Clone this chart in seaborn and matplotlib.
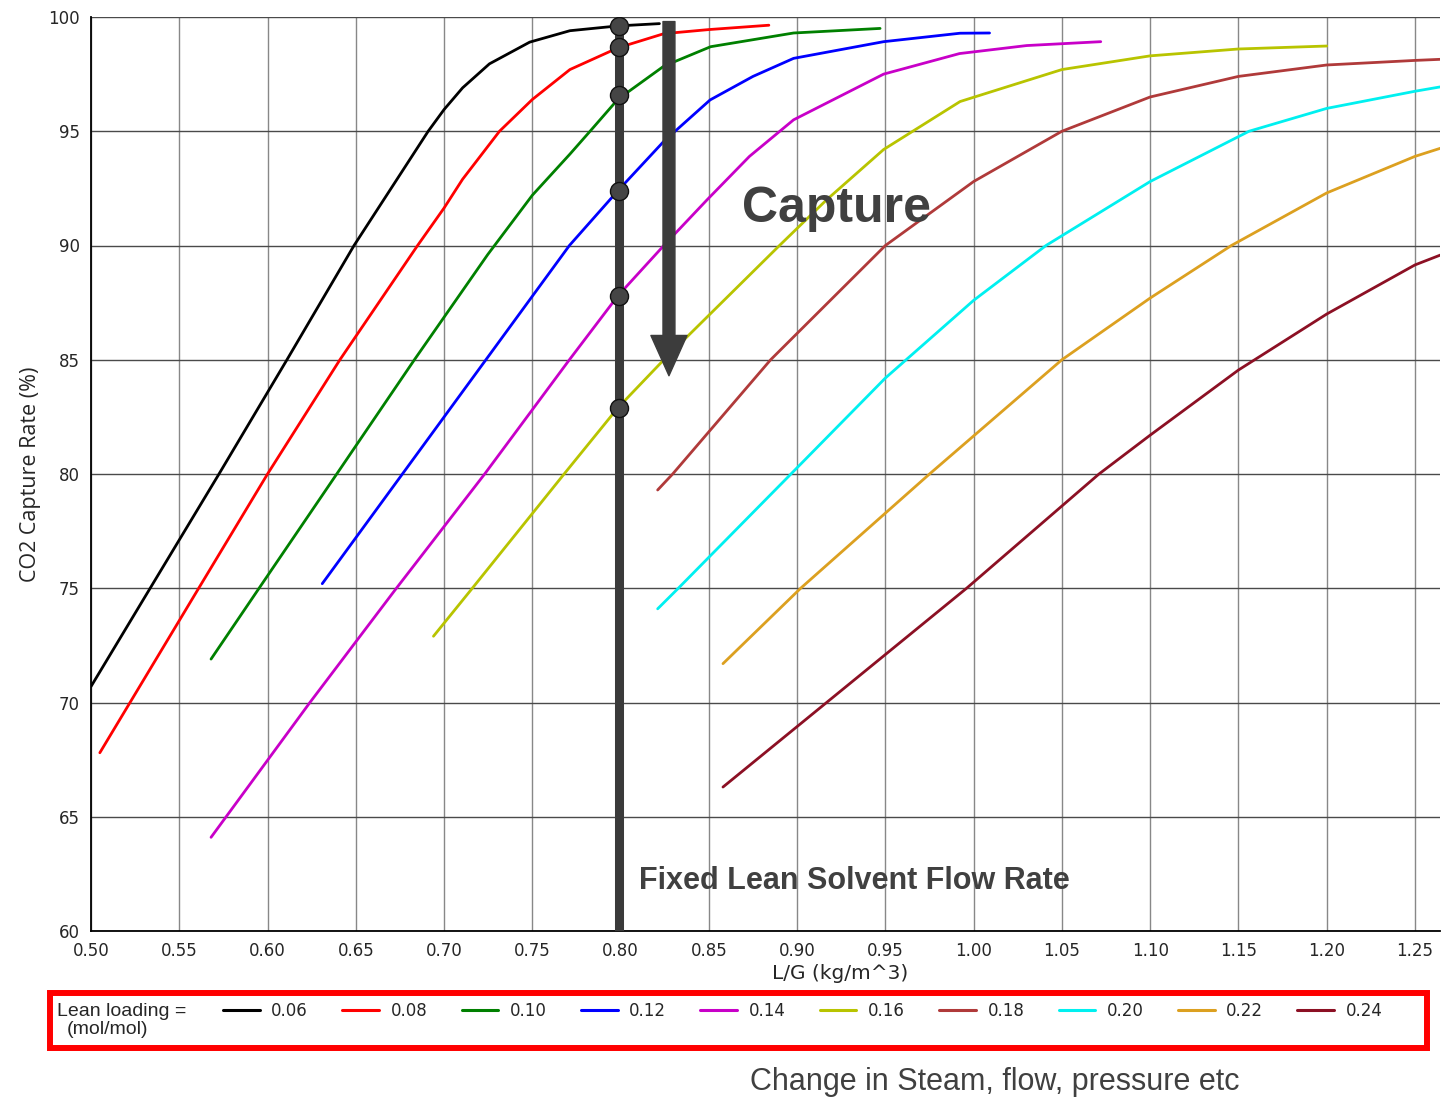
import matplotlib
matplotlib.use("Agg")
import matplotlib.pyplot as plt
import seaborn as sns
import pandas as pd
from matplotlib.patches import Rectangle, FancyArrowPatch, ArrowStyle

# ---------------- data ----------------
loadings = ["0.06", "0.08", "0.10", "0.12", "0.14", "0.16", "0.18", "0.20", "0.22", "0.24"]
colors = ["#000000", "#ff0000", "#008000", "#0000ff", "#c800c8",
          "#b8c400", "#b03a3a", "#00f0f0", "#dca020", "#8c1024"]

lg_006 = [0.500, 0.5335, 0.5725, 0.611, 0.649, 0.691, 0.700, 0.7105, 0.7257, 0.7485, 0.7713, 0.7985, 0.822]
cap_006 = [70.7, 75.0, 80.0, 85.0, 90.0, 95.0, 95.95, 96.9, 97.95, 98.9, 99.4, 99.61, 99.71]

lg_008 = [0.505, 0.561, 0.600, 0.641, 0.685, 0.700, 0.7105, 0.7314, 0.750, 0.7713, 0.7985, 0.8245, 0.850, 0.884]
cap_008 = [67.8, 75.0, 80.0, 85.0, 90.0, 91.64, 92.9, 95.0, 96.39, 97.70, 98.65, 99.27, 99.45, 99.64]

lg_010 = [0.568, 0.5952, 0.6392, 0.6832, 0.7247, 0.750, 0.7713, 0.7827, 0.7985, 0.8245, 0.851, 0.898, 0.947]
cap_010 = [71.9, 75.0, 80.0, 85.0, 89.6, 92.2, 94.0, 95.0, 96.4, 97.85, 98.70, 99.30, 99.50]

lg_012 = [0.631, 0.6764, 0.7237, 0.771, 0.7985, 0.8245, 0.8507, 0.875, 0.898, 0.949, 0.9923, 1.009]
cap_012 = [75.2, 80.0, 85.0, 90.0, 92.4, 94.56, 96.37, 97.4, 98.19, 98.92, 99.29, 99.30]

lg_014 = [0.568, 0.624, 0.672, 0.723, 0.771, 0.7985, 0.8245, 0.849, 0.873, 0.898, 0.949, 0.992, 1.030, 1.072]
cap_014 = [64.1, 70.0, 74.9, 80.0, 85.0, 87.8, 90.0, 92.0, 93.9, 95.5, 97.5, 98.4, 98.75, 98.92]

lg_016 = [0.694, 0.716, 0.768, 0.7985, 0.8245, 0.890, 0.9167, 0.949, 0.9923, 1.050, 1.100, 1.150, 1.200]
cap_016 = [72.9, 75.0, 80.0, 82.9, 85.0, 90.0, 92.0, 94.2, 96.3, 97.7, 98.3, 98.6, 98.73]

lg_018 = [0.821, 0.8295, 0.885, 0.950, 1.000, 1.050, 1.100, 1.150, 1.200, 1.250, 1.265]
cap_018 = [79.3, 80.0, 85.0, 90.0, 92.8, 95.0, 96.5, 97.4, 97.9, 98.1, 98.15]

lg_020 = [0.821, 0.8327, 0.8965, 0.950, 1.000, 1.041, 1.100, 1.156, 1.200, 1.250, 1.265]
cap_020 = [74.1, 75.0, 80.0, 84.2, 87.6, 90.0, 92.8, 95.0, 96.0, 96.75, 96.95]

lg_022 = [0.858, 0.902, 0.975, 1.050, 1.100, 1.146, 1.200, 1.250, 1.265]
cap_022 = [71.7, 75.0, 80.0, 85.0, 87.7, 90.0, 92.3, 93.9, 94.27]

lg_024 = [0.858, 0.9167, 0.996, 1.071, 1.100, 1.150, 1.200, 1.250, 1.265]
cap_024 = [66.3, 70.0, 75.0, 80.0, 81.7, 84.55, 87.0, 89.15, 89.6]

fixed_flow_lg = 0.799
fixed_flow_capture = [99.62, 98.68, 96.6, 92.4, 87.8, 82.9]

x_ticks = [0.50, 0.55, 0.60, 0.65, 0.70, 0.75, 0.80, 0.85, 0.90, 0.95, 1.00, 1.05, 1.10, 1.15, 1.20, 1.25]
y_ticks = [60, 65, 70, 75, 80, 85, 90, 95, 100]

series_x = [lg_006, lg_008, lg_010, lg_012, lg_014, lg_016, lg_018, lg_020, lg_022, lg_024]
series_y = [cap_006, cap_008, cap_010, cap_012, cap_014, cap_016, cap_018, cap_020, cap_022, cap_024]

rows = []
for lab, xs, ys in zip(loadings, series_x, series_y):
    for xv, yv in zip(xs, ys):
        rows.append({"L/G": xv, "capture": yv, "loading": lab})
df = pd.DataFrame(rows)

# ---------------- style ----------------
sns.set_style("white")
plt.rcParams["font.family"] = ["DejaVu Sans"]

fig = plt.figure(figsize=(14.42, 11), dpi=100)
ax = fig.add_axes([91 / 1442, 1 - 931 / 1100, (1440 - 91) / 1442, (931 - 17) / 1100])

sns.lineplot(data=df, x="L/G", y="capture", hue="loading", hue_order=loadings,
             palette=colors, estimator=None, sort=False, linewidth=2.0, ax=ax, legend="full")

handles, labels = ax.get_legend_handles_labels()
ax.get_legend().remove()

ax.set_xlim(0.50, 0.5 + (1440 - 91) / 1765.3)
ax.set_ylim(60, 100)
ax.set_xticks(x_ticks)
ax.set_xticklabels([f"{v:.2f}" for v in x_ticks])
ax.set_yticks(y_ticks)
ax.tick_params(axis="both", labelsize=12, length=5, width=1, direction="out", color="black", pad=3)

ax.xaxis.grid(True, color="#888888", linewidth=1.0)
ax.yaxis.grid(True, color="#4a4a4a", linewidth=1.0)
ax.set_axisbelow(True)
for s in ["top", "right"]:
    ax.spines[s].set_visible(False)
for s in ["left", "bottom"]:
    ax.spines[s].set_color("black")
    ax.spines[s].set_linewidth(1.3)

ax.set_xlabel("L/G (kg/m^3)", fontsize=14.5)
ax.xaxis.set_label_coords((840 - 91) / 1349, -0.036)
ax.set_ylabel("CO2 Capture Rate (%)", fontsize=15.5, family=["Open Sans", "DejaVu Sans"])
ax.yaxis.set_label_coords(-0.037, 0.5)

# fixed lean solvent flow rate bar + intersection dots
ax.vlines(fixed_flow_lg, 60, 99.85, color="#3a3a3a", linewidth=6.5, zorder=5)
ax.plot([fixed_flow_lg] * len(fixed_flow_capture), fixed_flow_capture, linestyle="none",
        marker="o", markersize=13, markerfacecolor="#454545", markeredgecolor="#111111",
        markeredgewidth=1.0, zorder=6)

# arrow
arrow = FancyArrowPatch((0.8274, 99.8), (0.8274, 84.3),
                        arrowstyle=ArrowStyle.Simple(head_length=2.9, head_width=2.6, tail_width=0.86),
                        mutation_scale=10, color="#3c3c3c", shrinkA=0, shrinkB=0, zorder=6)
ax.add_patch(arrow)

ax.text(0.869, 91.6, "Capture", fontsize=36, fontweight="bold", color="#404040",
        va="center", ha="left", family=["Liberation Sans", "DejaVu Sans"], zorder=7)
ax.text(0.8104, 62.2, "Fixed Lean Solvent Flow Rate", fontsize=22, fontweight="bold",
        color="#404040", va="center", ha="left", family=["Liberation Sans", "DejaVu Sans"], zorder=7)

# legend
for h in handles:
    h.set_linewidth(2.2)
fig.legend(handles, labels, ncol=10, loc="center left",
           bbox_to_anchor=(208 / 1442, 1 - 1011 / 1100), frameon=False, fontsize=12,
           handlelength=2.2, handletextpad=0.7, columnspacing=2.05, borderpad=0.4)
fig.text(57 / 1442, 1 - 1011 / 1100, "Lean loading =", fontsize=14, va="center", ha="left",
         family=["Liberation Sans", "DejaVu Sans"])
fig.text(67 / 1442, 1 - 1030 / 1100, "(mol/mol)", fontsize=14, va="center", ha="left",
         family=["Liberation Sans", "DejaVu Sans"])
fig.add_artist(Rectangle((50 / 1442, 1 - 1048 / 1100), 1377 / 1442, 55 / 1100,
                         transform=fig.transFigure, fill=False, edgecolor="#ff0000", linewidth=4.3))

fig.text(750 / 1442, 1 - 1082 / 1100, "Change in Steam, flow, pressure etc", fontsize=22,
         color="#404040", va="center", ha="left", family=["Liberation Sans", "DejaVu Sans"])

fig.savefig("out.png", dpi=100)
